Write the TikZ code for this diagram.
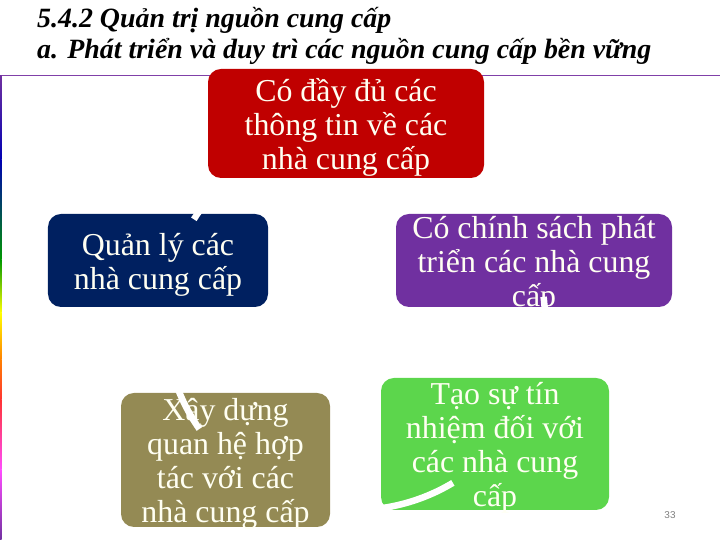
\documentclass[tikz,border=0pt]{standalone}
\usepackage{fontspec}
\setmainfont{Liberation Serif}
\newfontfamily\numfont{Liberation Sans}
\usetikzlibrary{positioning}

\definecolor{boxred}{HTML}{C00000}
\definecolor{boxnavy}{HTML}{002060}
\definecolor{boxpurple}{HTML}{7030A0}
\definecolor{boxolive}{HTML}{948A54}
\definecolor{boxgreen}{HTML}{5CD64C}
\definecolor{txtcream}{HTML}{FFFFF2}
\definecolor{rulepurple}{HTML}{8040A8}

\tikzset{
        card/.style={rounded corners=13bp, inner sep=0pt},
        cardtext/.style={text=txtcream, align=center, inner sep=0pt, yshift=-4bp,
                font=\fontsize{32}{34}\selectfont},
        headline/.style={anchor=base west, inner sep=0pt,
                font=\fontsize{28}{31}\bfseries\itshape\selectfont},
        cyc/.style={white, line width=6.5bp}
}

\begin{document}
\begin{tikzpicture}[x=1bp,y=1bp]
        \useasboundingbox (0,0) rectangle (720,540);
        \node[headline] (title1) at (37,512) {5.4.2 Quản trị nguồn cung cấp};
        \node[headline] (title2) at (37,481) {a. Phát triển và duy trì các nguồn cung cấp bền vững};
        \draw[rulepurple, line width=1bp] (0,464) -- (720,464);
        \foreach \ya/\yb/\ca/\cb in {464/380/boxpurple/blue!70!black,
                380/280/blue!70!black/green!60!black, 280/227/green!60!black/yellow,
                227/180/yellow/orange, 180/140/orange/red!80, 140/70/red!80/magenta!70,
                70/0/magenta!70/boxpurple}{%
                \shade[top color=\ca, bottom color=\cb] (0,\yb) rectangle (1.5,\ya);
            }
        \node[card, fill=boxred, minimum width=276bp, minimum height=109bp] (info) at (346,416.5) {};
        \node[cardtext] at (info) {Có đầy đủ các\\thông tin về các\\nhà cung cấp};
        \node[card, fill=boxnavy, minimum width=220bp, minimum height=93bp] (manage) at (158,279.5) {};
        \node[cardtext] at (manage) {Quản lý các\\nhà cung cấp};
        \node[card, fill=boxpurple, minimum width=276bp, minimum height=93bp] (policy) at (534,279.5) {};
        \node[cardtext] at (policy) {Có chính sách phát\\triển các nhà cung\\cấp};
        \node[card, fill=boxolive, minimum width=209bp, minimum height=134bp] (partner) at (225.5,80) {};
        \node[cardtext] at (partner) {Xây dựng\\quan hệ hợp\\tác với các\\nhà cung cấp};
        \node[card, fill=boxgreen, minimum width=228bp, minimum height=132bp] (trust) at (495,96) {};
        \node[cardtext] at (trust) {Tạo sự tín\\nhiệm đối với\\các nhà cung\\cấp};
        \coordinate (hub) at (355,220);
        \foreach \a/\b in {134/148, 178/215, 265/301, 345/367, 37/46}{%
                \draw[cyc] ([shift={(\a:190bp)}]hub) arc[start angle=\a, end angle=\b, radius=190bp];
            }
        \node[text=gray, font=\numfont\fontsize{10}{12}\selectfont] (pagenum) at (670,25) {33};
\end{tikzpicture}
\end{document}
